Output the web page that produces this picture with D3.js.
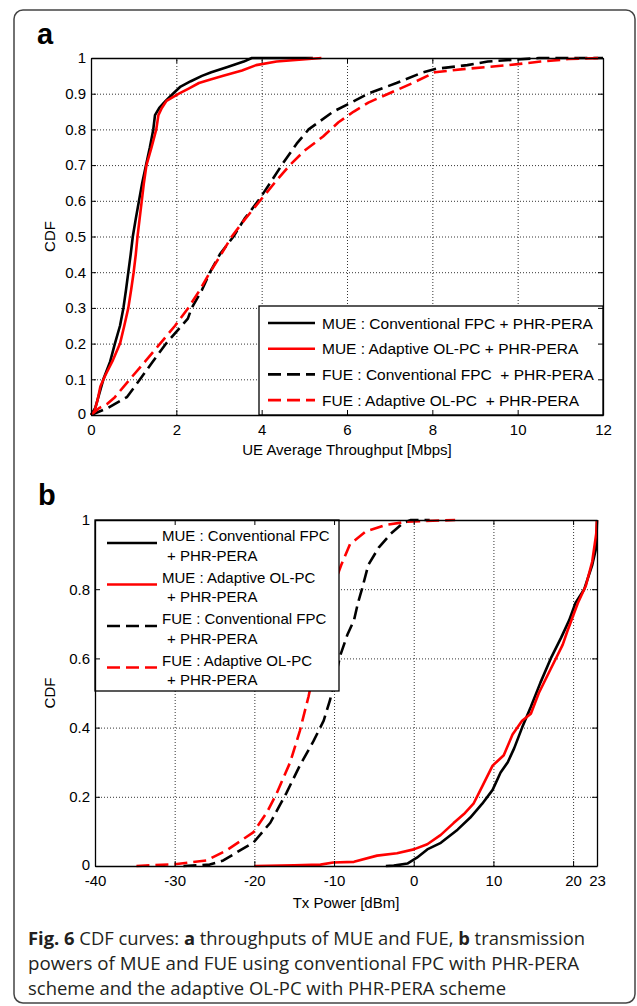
<!DOCTYPE html>
<html>
<head>
<meta charset="utf-8">
<script src="https://cdn.jsdelivr.net/npm/d3@7"></script>
<style>
  body { margin: 0; background: #fff; }
  svg { display: block; }
  .tick-lbl { font-family: Arial, "Liberation Sans", Helvetica, sans-serif; font-size: 15px; fill: #000; }
  .ax-title { font-family: Arial, "Liberation Sans", Helvetica, sans-serif; font-size: 15px; fill: #000; }
  .grid line { stroke: #000; stroke-width: 0.8; stroke-dasharray: 1,2; }
  .grid path { display: none; }
  .caption { font-family: "Open Sans", sans-serif; font-size: 18.5px; fill: #231f20; }
</style>
</head>
<body>
<div id="chart"></div>
<script>
// ---- panel a : UE average throughput CDF, points are [Mbps, CDF]
const thrMueConv = [[0,0],[0.1,0.02],[0.29,0.1],[0.45,0.15],[0.56,0.2],[0.68,0.25],[0.76,0.3],[0.82,0.35],[0.875,0.4],[0.93,0.45],[0.98,0.5],[1.05,0.55],[1.125,0.6],[1.2,0.65],[1.29,0.7],[1.38,0.75],[1.46,0.8],[1.5,0.84],[1.6,0.86],[1.75,0.88],[1.92,0.9],[2.1,0.92],[2.34,0.935],[2.6,0.95],[2.82,0.96],[3.2,0.975],[3.58,0.99],[3.77,1.0],[5.2,1.0]];
const thrMueAdapt = [[0,0],[0.08,0.01],[0.15,0.04],[0.22,0.08],[0.33,0.11],[0.5,0.15],[0.68,0.2],[0.78,0.25],[0.875,0.3],[0.94,0.35],[1.0,0.4],[1.05,0.45],[1.09,0.5],[1.14,0.55],[1.19,0.6],[1.24,0.65],[1.3,0.7],[1.42,0.75],[1.53,0.8],[1.58,0.84],[1.66,0.86],[1.77,0.88],[2.06,0.9],[2.3,0.915],[2.53,0.93],[2.8,0.94],[3.1,0.95],[3.54,0.965],[3.87,0.98],[4.35,0.99],[5.4,1.0]];
const thrFueConv = [[0,0],[0.4,0.02],[0.84,0.05],[1.15,0.1],[1.45,0.15],[1.76,0.2],[2.05,0.24],[2.27,0.27],[2.36,0.3],[2.6,0.35],[2.79,0.4],[3.02,0.45],[3.34,0.5],[3.6,0.55],[3.92,0.6],[4.2,0.65],[4.47,0.7],[4.82,0.76],[5.1,0.8],[5.68,0.85],[6.1,0.875],[6.49,0.9],[7.16,0.93],[7.78,0.96],[8.1,0.97],[8.82,0.98],[9.3,0.99],[10.5,1.0],[12,1.0]];
const thrFueAdapt = [[0,0],[0.2,0.02],[0.37,0.03],[0.56,0.05],[0.91,0.1],[1.27,0.15],[1.62,0.2],[1.97,0.25],[2.28,0.3],[2.55,0.35],[2.79,0.4],[3.05,0.45],[3.3,0.5],[3.62,0.55],[3.96,0.6],[4.3,0.65],[4.66,0.7],[5.0,0.74],[5.44,0.78],[5.8,0.82],[6.16,0.85],[6.5,0.875],[6.97,0.9],[7.54,0.93],[8.06,0.96],[8.82,0.97],[9.78,0.98],[10.54,0.99],[11.2,0.997],[12,1.0]];

// ---- panel b : Tx power CDF, points are [dBm, CDF]
const pwrMueConv = [[-3.5,0],[-2.5,0.001],[-0.8,0.007],[0.4,0.024],[1.7,0.048],[3.4,0.067],[5.5,0.105],[7.1,0.14],[8.6,0.18],[9.9,0.22],[10.9,0.27],[11.8,0.3],[12.6,0.34],[13.6,0.4],[14.7,0.46],[15.9,0.53],[17.2,0.6],[18.5,0.66],[19.5,0.71],[20.3,0.76],[21.4,0.8],[22.4,0.87],[22.9,0.92],[23,1.0]];
const pwrMueAdapt = [[-20,0],[-15,0.002],[-11.7,0.004],[-10.1,0.01],[-7.5,0.012],[-4.6,0.03],[-2.1,0.037],[0,0.048],[1.7,0.063],[3.4,0.09],[5.0,0.124],[6.3,0.15],[7.5,0.18],[8.6,0.23],[9.9,0.29],[11.3,0.32],[12.4,0.38],[13.6,0.42],[14.7,0.44],[15.7,0.5],[17.2,0.57],[18.7,0.64],[19.3,0.68],[20.6,0.76],[21.6,0.81],[22.4,0.88],[22.9,0.96],[23,1.0]];
const pwrFueConv = [[-28.9,0],[-25.6,0.004],[-23.9,0.016],[-21.8,0.045],[-20.1,0.068],[-18,0.125],[-16,0.21],[-14.3,0.29],[-12.6,0.36],[-11.3,0.42],[-10.5,0.48],[-9.8,0.55],[-9.2,0.61],[-8.3,0.67],[-7.5,0.71],[-7.0,0.76],[-6.5,0.8],[-5.7,0.87],[-4.4,0.92],[-2.9,0.96],[-1.4,0.99],[-0.35,1.0],[2,1.0]];
const pwrFueAdapt = [[-34.8,0],[-30,0.005],[-26,0.016],[-23.5,0.045],[-20.1,0.098],[-18.4,0.156],[-17.2,0.21],[-15.5,0.3],[-14.3,0.39],[-13.2,0.49],[-12.2,0.6],[-11.2,0.7],[-10.2,0.8],[-9.1,0.87],[-8.0,0.93],[-6.0,0.967],[-3.4,0.986],[-0.85,0.995],[5.2,1.0]];

// tick labels
const thrXTicks = [0, 2, 4, 6, 8, 10, 12];
const thrYTicks = [0, 0.1, 0.2, 0.3, 0.4, 0.5, 0.6, 0.7, 0.8, 0.9, 1];
const pwrXTicks = [-40, -30, -20, -10, 0, 10, 20, 23];
const pwrYTicks = [0, 0.2, 0.4, 0.6, 0.8, 1];

const seriesStyle = [
  {color: "#000", dash: null},
  {color: "#ff0000", dash: null},
  {color: "#000", dash: "13,6"},
  {color: "#ff0000", dash: "13,6"}
];

const legendA = ["MUE : Conventional FPC + PHR-PERA", "MUE : Adaptive OL-PC + PHR-PERA",
                 "FUE : Conventional FPC  + PHR-PERA", "FUE : Adaptive OL-PC  + PHR-PERA"];
const legendB = [["MUE : Conventional FPC", "+ PHR-PERA"], ["MUE : Adaptive OL-PC", "+ PHR-PERA"],
                 ["FUE : Conventional FPC", "+ PHR-PERA"], ["FUE : Adaptive OL-PC", "+ PHR-PERA"]];

let width = 637, height = 1006;

let svg = d3.select("#chart").append("svg")
  .attr("width", width)
  .attr("height", height);

svg.append("rect").attr("width", width).attr("height", height).attr("fill", "#fff");

// outer figure frame
svg.append("rect")
  .attr("x", 14).attr("y", 10)
  .attr("width", 621).attr("height", 993)
  .attr("rx", 9)
  .attr("fill", "none")
  .attr("stroke", "#444")
  .attr("stroke-width", 1.5);

function panel(opt) {
  let g = svg.append("g");
  let x = d3.scaleLinear().domain(opt.xDomain).range([opt.left, opt.right]);
  let y = d3.scaleLinear().domain([0, 1]).range([opt.bottom, opt.top]);
  let h = opt.bottom - opt.top, w = opt.right - opt.left;

  // dotted grid
  g.append("g").attr("class", "grid")
    .attr("transform", `translate(0,${opt.bottom})`)
    .call(d3.axisBottom(x).tickValues(opt.xTicks.slice(1, -1)).tickSize(-h).tickFormat(""));
  g.append("g").attr("class", "grid")
    .attr("transform", `translate(${opt.left},0)`)
    .call(d3.axisLeft(y).tickValues(opt.yTicks.slice(1, -1)).tickSize(-w).tickFormat(""));

  // curves
  let line = d3.line().x(d => x(d[0])).y(d => y(d[1]));
  opt.series.forEach((s, i) => {
    g.append("path")
      .datum(s)
      .attr("d", line)
      .attr("fill", "none")
      .attr("stroke", seriesStyle[i].color)
      .attr("stroke-width", 2.6)
      .attr("stroke-dasharray", seriesStyle[i].dash)
      .attr("stroke-linejoin", "round");
  });

  // legend box
  let lg = g.append("g");
  lg.append("rect")
    .attr("x", opt.legend.x).attr("y", opt.legend.y)
    .attr("width", opt.legend.w).attr("height", opt.legend.h)
    .attr("fill", "#fff").attr("stroke", "#000").attr("stroke-width", 1.3);
  opt.legend.items.forEach((txt, i) => {
    let ly = opt.legend.y0 + i * opt.legend.step;
    lg.append("line")
      .attr("x1", opt.legend.x + opt.legend.lx0).attr("x2", opt.legend.x + opt.legend.lx1)
      .attr("y1", ly).attr("y2", ly)
      .attr("stroke", seriesStyle[i].color)
      .attr("stroke-width", 2.6)
      .attr("stroke-dasharray", seriesStyle[i].dash);
    let lines = Array.isArray(txt) ? txt : [txt];
    lines.forEach((t, j) => {
      lg.append("text")
        .attr("x", opt.legend.x + opt.legend.tx + (j > 0 ? opt.legend.indent : 0))
        .attr("y", ly + opt.legend.dy + j * opt.legend.lineH)
        .style("font-family", 'Arial, "Liberation Sans", Helvetica, sans-serif')
        .style("font-size", opt.legend.fs + "px")
        .style("white-space", "pre")
        .text(t);
    });
  });

  // axes box with inward ticks
  let xb = g.append("g").attr("transform", `translate(0,${opt.bottom})`)
    .call(d3.axisBottom(x).tickValues(opt.xTicks).tickSizeInner(-5).tickSizeOuter(0).tickPadding(9)
      .tickFormat(d => d));
  let xt = g.append("g").attr("transform", `translate(0,${opt.top})`)
    .call(d3.axisTop(x).tickValues(opt.xTicks).tickSizeInner(-5).tickSizeOuter(0).tickFormat(""));
  let yl = g.append("g").attr("transform", `translate(${opt.left},0)`)
    .call(d3.axisLeft(y).tickValues(opt.yTicks).tickSizeInner(-5).tickSizeOuter(0).tickPadding(5)
      .tickFormat(d => d));
  let yr = g.append("g").attr("transform", `translate(${opt.right},0)`)
    .call(d3.axisRight(y).tickValues(opt.yTicks).tickSizeInner(-5).tickSizeOuter(0).tickFormat(""));
  [xb, xt, yl, yr].forEach(a => {
    a.attr("font-family", null).attr("font-size", null);
    a.select(".domain").attr("stroke", "#000").attr("stroke-width", 1.3);
    a.selectAll(".tick line").attr("stroke", "#000");
    a.selectAll("text").attr("class", "tick-lbl");
  });
  // the lowest y label sits a little above the corner, clear of the first x label
  yl.selectAll(".tick").filter(d => d === 0).select("text").attr("dy", "0.2em");

  // axis titles
  g.append("text").attr("class", "ax-title")
    .attr("text-anchor", "middle")
    .attr("x", (opt.left + opt.right) / 2)
    .attr("y", opt.bottom + opt.xTitleDy)
    .text(opt.xTitle);
  g.append("text").attr("class", "ax-title")
    .attr("text-anchor", "middle")
    .attr("transform", `translate(55,${(opt.top + opt.bottom) / 2})rotate(-90)`)
    .text("CDF");

  // panel letter
  g.append("text")
    .attr("x", opt.letterX).attr("y", opt.letterY)
    .style("font-family", 'Arial, "Liberation Sans", Helvetica, sans-serif')
    .style("font-weight", "bold")
    .style("font-size", "29px")
    .text(opt.letter);
}

panel({
  letter: "a", letterX: 37, letterY: 44,
  left: 91, right: 603, top: 58, bottom: 415,
  xDomain: [0, 12], xTicks: thrXTicks, yTicks: thrYTicks,
  series: [thrMueConv, thrMueAdapt, thrFueConv, thrFueAdapt],
  xTitle: "UE Average Throughput [Mbps]", xTitleDy: 40,
  legend: {x: 259, y: 306, w: 344, h: 109, items: legendA, y0: 323, step: 25.7,
           lx0: 9, lx1: 56, tx: 63, indent: 0, dy: 5.5, lineH: 0, fs: 15.5}
});

panel({
  letter: "b", letterX: 38, letterY: 505,
  left: 95, right: 597, top: 520, bottom: 866,
  xDomain: [-40, 23], xTicks: pwrXTicks, yTicks: pwrYTicks,
  series: [pwrMueConv, pwrMueAdapt, pwrFueConv, pwrFueAdapt],
  xTitle: "Tx Power [dBm]", xTitleDy: 42,
  legend: {x: 95, y: 520, w: 244, h: 171, items: legendB, y0: 543, step: 41.5,
           lx0: 12, lx1: 62, tx: 67, indent: 5, dy: -2, lineH: 19.5, fs: 15}
});

// caption, each line stretched to the width it has in the figure
let cap = svg.append("g").attr("class", "caption");
let l1 = cap.append("text").attr("x", 28).attr("y", 945)
  .attr("textLength", 557).attr("lengthAdjust", "spacingAndGlyphs");
l1.append("tspan").attr("font-weight", "bold").text("Fig. 6");
l1.append("tspan").text(" CDF curves: ");
l1.append("tspan").attr("font-weight", "bold").text("a");
l1.append("tspan").text(" throughputs of MUE and FUE, ");
l1.append("tspan").attr("font-weight", "bold").text("b");
l1.append("tspan").text(" transmission");
cap.append("text").attr("x", 28).attr("y", 970)
  .attr("textLength", 551).attr("lengthAdjust", "spacingAndGlyphs")
  .text("powers of MUE and FUE using conventional FPC with PHR-PERA");
cap.append("text").attr("x", 28).attr("y", 995)
  .attr("textLength", 478).attr("lengthAdjust", "spacingAndGlyphs")
  .text("scheme and the adaptive OL-PC with PHR-PERA scheme");
</script>
</body>
</html>
